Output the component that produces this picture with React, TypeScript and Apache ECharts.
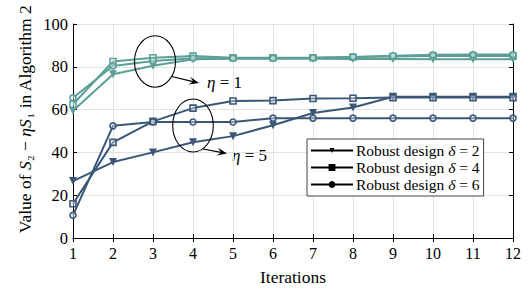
import React, { useEffect, useRef } from "react";
import * as echarts from "echarts";

const iterations = [1, 2, 3, 4, 5, 6, 7, 8, 9, 10, 11, 12];
const yTicks = [0, 20, 40, 60, 80, 100];
const deltas = [2, 4, 6];

// eta = 1 (teal)
const eta1Delta2 = [59.5, 76.5, 80.5, 83.5, 83.8, 83.8, 83.8, 83.6, 83.6, 83.5, 83.5, 83.5];
const eta1Delta4 = [62.5, 82.5, 84.2, 85, 84.2, 84.2, 84.2, 84.6, 84.8, 85, 85, 85];
const eta1Delta6 = [65.5, 80.4, 82.7, 84, 84, 84, 84.2, 84.6, 85.2, 85.6, 85.7, 85.7];

// eta = 5 (dark blue)
const eta5Delta2 = [26.6, 35.5, 40, 44.7, 47.6, 52.7, 58.4, 61, 66, 66, 66, 66];
const eta5Delta4 = [16, 44.7, 54.5, 60.7, 64, 64.2, 65.2, 65.3, 65.6, 65.6, 65.6, 65.6];
const eta5Delta6 = [10.6, 52.4, 54.2, 54.2, 54.2, 56, 56, 56, 56, 56, 56, 56];

const TEAL = "#5b9f97";
const DARK = "#3a5777";
const FONT = "Liberation Serif";

const legendName = (d: number) => `Robust design δ = ${d}`;

export default function App() {
  const ref = useRef<HTMLDivElement>(null);
  useEffect(() => {
    if (!ref.current) return;
    const chart = echarts.init(ref.current, null, { renderer: "svg" });
    const mk = (vals: number[], d: number, color: string, symbol: string) => ({
      type: "line",
      name: legendName(d),
      data: iterations.map((it, i) => [it, vals[i]]),
      symbol,
      symbolSize: symbol === "triangle" ? 8 : 6,
      symbolRotate: symbol === "triangle" ? 180 : 0,
      showSymbol: true,
      lineStyle: { color, width: 2 },
      itemStyle: {
        color: symbol === "triangle" ? color : "rgba(255,255,255,0.35)",
        borderColor: color,
        borderWidth: symbol === "triangle" ? 0 : 1.6,
      },
      z: 3,
    });
    const series = [
      mk(eta1Delta2, 2, TEAL, "triangle"),
      mk(eta1Delta4, 4, TEAL, "rect"),
      mk(eta1Delta6, 6, TEAL, "circle"),
      mk(eta5Delta2, 2, DARK, "triangle"),
      mk(eta5Delta4, 4, DARK, "rect"),
      mk(eta5Delta6, 6, DARK, "circle"),
    ];
    const axisCommon = {
      axisLine: { show: true, lineStyle: { color: "#000", width: 1 } },
      axisTick: { show: true, inside: true, length: 4, lineStyle: { color: "#000" } },
    };
    const arrowHead = (x: number, y: number, ang: number) => {
      const L = 10, W = 4;
      const cx = Math.cos(ang), sy = Math.sin(ang);
      const bx = x - L * cx, by = y - L * sy;
      const mx = x - 0.6 * L * cx, my = y - 0.6 * L * sy;
      return {
        type: "polygon",
        shape: {
          points: [
            [x, y],
            [bx - W * sy, by + W * cx],
            [mx, my],
            [bx + W * sy, by - W * cx],
          ],
        },
        style: { fill: "#000" },
        z: 10,
      };
    };
    const arrow = (x1: number, y1: number, x2: number, y2: number) => {
      const ang = Math.atan2(y2 - y1, x2 - x1);
      return [
        { type: "line", shape: { x1, y1, x2: x2 - 5 * Math.cos(ang), y2: y2 - 5 * Math.sin(ang) }, style: { stroke: "#000", lineWidth: 1.2 }, z: 10 },
        arrowHead(x2, y2, ang),
      ];
    };
    const etaText = (x: number, y: number, v: number) => ({
      type: "text",
      x,
      y,
      style: {
        text: `{i|η}{t| = ${v}}`,
        fontFamily: FONT,
        fontSize: 17,
        fill: "#000",
        align: "left",
        verticalAlign: "middle",
        rich: {
          t: { fontFamily: FONT, fontSize: 17, fill: "#000" },
          i: { fontFamily: FONT, fontSize: 17, fontStyle: "italic", fill: "#000" },
        },
      },
    });
    chart.setOption({
      animation: false,
      backgroundColor: "#fff",
      textStyle: { fontFamily: FONT },
      grid: { left: 73, right: 17, top: 24, bottom: 50, containLabel: false },
      xAxis: [
        {
          type: "value",
          min: 1,
          max: 12,
          interval: 1,
          name: "Iterations",
          nameLocation: "middle",
          nameGap: 30,
          nameTextStyle: { fontFamily: FONT, fontSize: 17.5, color: "#000" },
          axisLabel: { fontFamily: FONT, fontSize: 16, color: "#000", margin: 7 },
          splitLine: { show: true, lineStyle: { color: "#e2e2e2", width: 1 } },
          ...axisCommon,
        },
        {
          type: "value",
          position: "top",
          min: 1,
          max: 12,
          interval: 1,
          axisLabel: { show: false },
          splitLine: { show: false },
          ...axisCommon,
        },
      ],
      yAxis: [
        {
          type: "value",
          min: 0,
          max: 100,
          interval: 20,
          data: yTicks,
          axisLabel: { fontFamily: FONT, fontSize: 16.5, color: "#000", margin: 5 },
          splitLine: { show: true, lineStyle: { color: "#e2e2e2", width: 1 } },
          ...axisCommon,
        },
        {
          type: "value",
          position: "right",
          min: 0,
          max: 100,
          interval: 20,
          axisLabel: { show: false },
          splitLine: { show: false },
          ...axisCommon,
        },
      ],
      legend: {
        orient: "vertical",
        left: 307,
        top: 139,
        padding: [3, 4, 3, 3],
        itemGap: 0,
        itemWidth: 42,
        itemHeight: 6,
        backgroundColor: "#fff",
        borderColor: "#444",
        borderWidth: 1,
        borderRadius: 0,
        data: deltas.map((d) => ({
          name: legendName(d),
          itemStyle: { color: "#000", borderColor: "#000" },
          lineStyle: { color: "#000", width: 2 },
        })),
        formatter: (name: string) => {
          const d = name.split("= ")[1];
          return `{t|Robust design }{i|δ}{t| = ${d}}`;
        },
        textStyle: {
          fontFamily: FONT,
          fontSize: 15.5,
          color: "#000",
          lineHeight: 17,
          padding: [0, 0, 0, -2],
          rich: {
            t: { fontFamily: FONT, fontSize: 15.5, color: "#000", lineHeight: 17 },
            i: { fontFamily: FONT, fontSize: 15.5, fontStyle: "italic", color: "#000", lineHeight: 17 },
          },
        },
        z: 20,
      },
      graphic: [
        {
          type: "text",
          x: 25,
          y: 119,
          rotation: Math.PI / 2,
          style: {
            text: "{t|Value of }{i|S}{t|₂ − }{i|ηS}{t|₁ in Algorithm 2}",
            fontFamily: FONT,
            fontSize: 17.5,
            fill: "#000",
            align: "center",
            verticalAlign: "middle",
            rich: {
              t: { fontFamily: FONT, fontSize: 17.5, fill: "#000" },
              i: { fontFamily: FONT, fontSize: 17.5, fontStyle: "italic", fill: "#000" },
            },
          },
        },
        { type: "ellipse", shape: { cx: 155, cy: 61.5, rx: 20.5, ry: 25.7 }, style: { fill: "none", stroke: "#000", lineWidth: 1.1 }, z: 10 },
        { type: "ellipse", shape: { cx: 193, cy: 125.5, rx: 20.3, ry: 26.5 }, style: { fill: "none", stroke: "#000", lineWidth: 1.1 }, z: 10 },
        ...arrow(171.5, 76.5, 199, 83),
        ...arrow(203, 149, 227, 153.5),
        etaText(207, 82, 1),
        etaText(232, 155, 5),
      ],
      series,
    });
    return () => chart.dispose();
  }, []);
  return <div ref={ref} style={{ width: 530, height: 291, position: "absolute", left: 0, top: 0 }} />;
}
